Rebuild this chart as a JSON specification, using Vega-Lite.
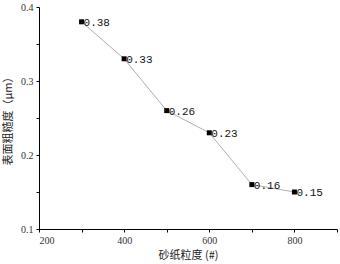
{
  "$schema": "https://vega.github.io/schema/vega-lite/v6.json",
  "width": 298,
  "height": 222,
  "autosize": {"type": "none"},
  "padding": {"left": 39, "top": 7, "right": 3, "bottom": 35},
  "background": "white",
  "config": {"view": {"stroke": null}, "font": "Liberation Serif"},
  "data": {"values": [
    {"grit": 300, "ra": 0.38},
    {"grit": 400, "ra": 0.33},
    {"grit": 500, "ra": 0.26},
    {"grit": 600, "ra": 0.23},
    {"grit": 700, "ra": 0.16},
    {"grit": 800, "ra": 0.15}
  ]},
  "encoding": {
    "x": {"field": "grit", "type": "quantitative", "scale": {"domain": [200, 900], "nice": false, "zero": false},
      "axis": {"title": "砂纸粒度 (#)", "values": [200, 300, 400, 500, 600, 700, 800, 900], "labelExpr": "datum.value % 200 == 0 && datum.value < 900 ? datum.label : ''", "grid": false, "domainColor": "black", "tickColor": "black", "tickSize": 3, "labelFont": "Liberation Serif", "labelFontSize": 10, "labelColor": "#333", "titleFont": "Noto Sans CJK SC", "titleFontSize": 11, "titleFontWeight": "normal", "titleColor": "#222", "titlePadding": 4, "labelPadding": 3}},
    "y": {"field": "ra", "type": "quantitative", "scale": {"domain": [0.1, 0.4], "nice": false, "zero": false},
      "axis": {"title": "表面粗糙度（μm）", "values": [0.1, 0.15, 0.2, 0.25, 0.3, 0.35, 0.4], "format": ".2f", "labelExpr": "round(datum.value * 100) % 10 == 0 ? format(datum.value, '.1f') : ''", "grid": false, "domainColor": "black", "tickColor": "black", "tickSize": 3, "labelFont": "Liberation Serif", "labelFontSize": 10, "labelColor": "#333", "titleFont": "Noto Sans CJK SC", "titleFontSize": 11, "titleFontWeight": "normal", "titleColor": "#222", "titlePadding": 7, "labelPadding": 3}}
  },
  "layer": [
    {"mark": {"type": "line", "color": "#999", "strokeWidth": 0.8}},
    {"mark": {"type": "square", "color": "black", "size": 25, "opacity": 1, "filled": true}},
    {"mark": {"type": "text", "align": "left", "dx": 2, "dy": 1, "font": "Liberation Mono", "fontSize": 11, "color": "#111"},
      "encoding": {"text": {"field": "ra", "type": "quantitative", "format": ".2f"}}}
  ]
}
